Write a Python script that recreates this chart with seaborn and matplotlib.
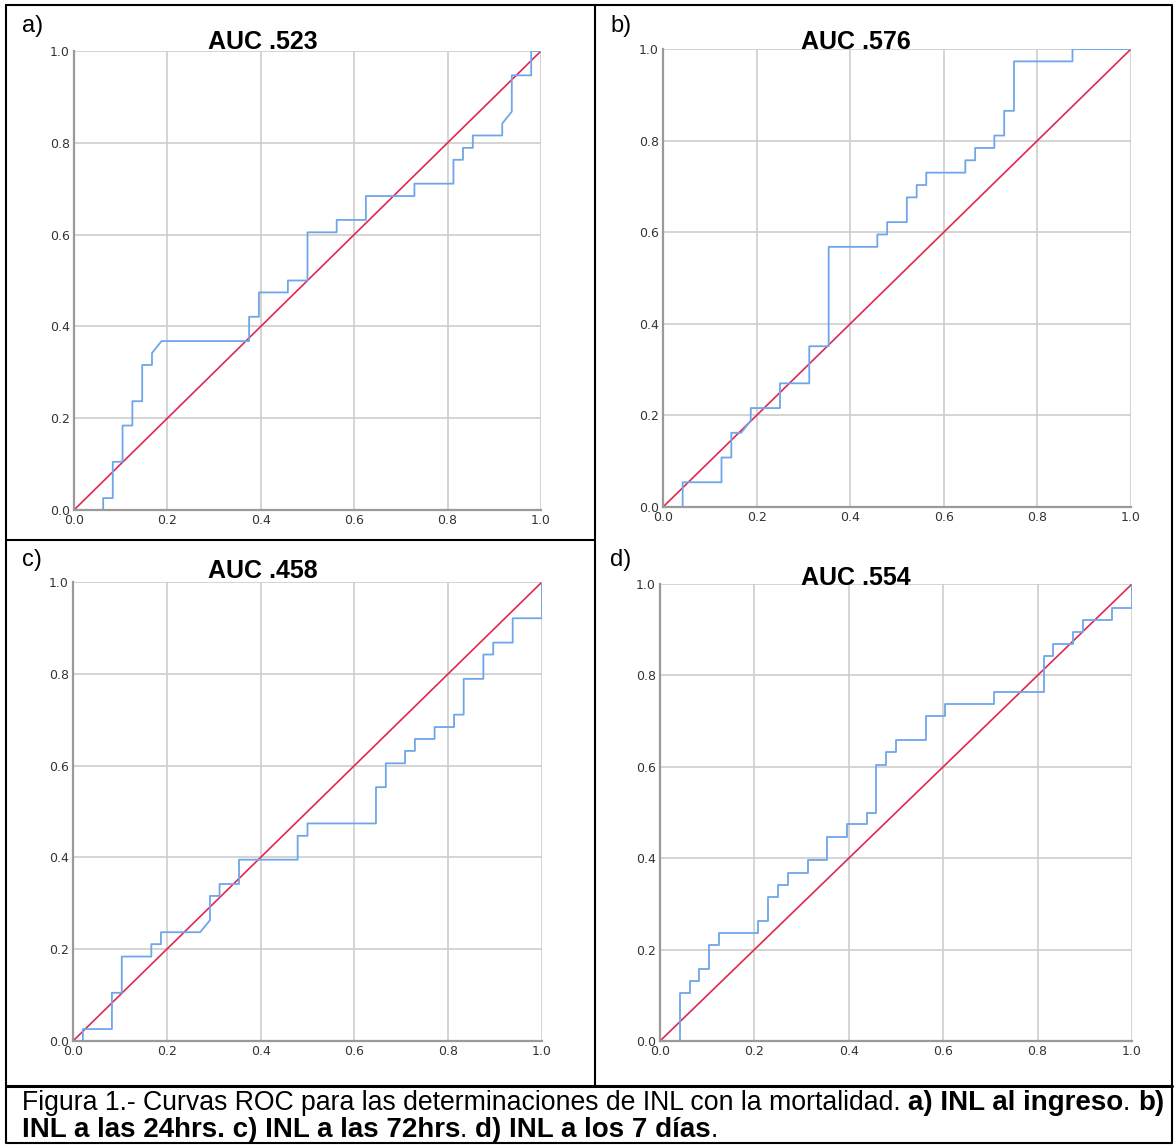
import matplotlib
matplotlib.use("Agg")
import matplotlib.pyplot as plt
import seaborn as sns
from matplotlib.lines import Line2D

# ROC curve vertices (1 - specificity, sensitivity)
fpr_a = [0, 0.0625, 0.0625, 0.083, 0.083, 0.104, 0.104, 0.125, 0.125, 0.146, 0.146, 0.167, 0.167, 0.1875,
         0.375, 0.375, 0.396, 0.396, 0.458, 0.458, 0.5, 0.5, 0.5625, 0.5625, 0.625, 0.625, 0.729, 0.729,
         0.8125, 0.8125, 0.833, 0.833, 0.854, 0.854, 0.917, 0.917, 0.9375, 0.9375, 0.979, 0.979, 1]
tpr_a = [0, 0, 0.026, 0.026, 0.105, 0.105, 0.184, 0.184, 0.237, 0.237, 0.316, 0.316, 0.342, 0.368,
         0.368, 0.421, 0.421, 0.474, 0.474, 0.5, 0.5, 0.605, 0.605, 0.632, 0.632, 0.684, 0.684, 0.711,
         0.711, 0.763, 0.763, 0.789, 0.789, 0.816, 0.816, 0.842, 0.868, 0.947, 0.947, 1, 1]

fpr_b = [0, 0.042, 0.042, 0.125, 0.125, 0.146, 0.146, 0.167, 0.1875, 0.1875, 0.25, 0.25, 0.3125, 0.3125,
         0.354, 0.354, 0.458, 0.458, 0.479, 0.479, 0.521, 0.521, 0.542, 0.542, 0.5625, 0.5625, 0.646,
         0.646, 0.667, 0.667, 0.708, 0.708, 0.729, 0.729, 0.75, 0.75, 0.875, 0.875, 1]
tpr_b = [0, 0, 0.054, 0.054, 0.108, 0.108, 0.162, 0.162, 0.189, 0.216, 0.216, 0.27, 0.27, 0.351,
         0.351, 0.568, 0.568, 0.595, 0.595, 0.622, 0.622, 0.676, 0.676, 0.703, 0.703, 0.730, 0.730,
         0.757, 0.757, 0.784, 0.784, 0.811, 0.811, 0.865, 0.865, 0.973, 0.973, 1, 1]

fpr_c = [0, 0.021, 0.021, 0.083, 0.083, 0.104, 0.104, 0.167, 0.167, 0.1875, 0.1875, 0.271, 0.292, 0.292,
         0.3125, 0.3125, 0.354, 0.354, 0.479, 0.479, 0.5, 0.5, 0.646, 0.646, 0.667, 0.667, 0.708, 0.708,
         0.729, 0.729, 0.771, 0.771, 0.8125, 0.8125, 0.833, 0.833, 0.875, 0.875, 0.896, 0.896, 0.9375,
         0.9375, 1, 1]
tpr_c = [0, 0, 0.026, 0.026, 0.105, 0.105, 0.184, 0.184, 0.211, 0.211, 0.237, 0.237, 0.263, 0.316,
         0.316, 0.342, 0.342, 0.395, 0.395, 0.447, 0.447, 0.474, 0.474, 0.553, 0.553, 0.605, 0.605, 0.632,
         0.632, 0.658, 0.658, 0.684, 0.684, 0.711, 0.711, 0.789, 0.789, 0.842, 0.842, 0.868, 0.868,
         0.921, 0.921, 1]

fpr_d = [0, 0.042, 0.042, 0.0625, 0.0625, 0.083, 0.083, 0.104, 0.104, 0.125, 0.125, 0.208, 0.208, 0.229,
         0.229, 0.25, 0.25, 0.271, 0.271, 0.3125, 0.3125, 0.354, 0.354, 0.396, 0.396, 0.4375, 0.4375,
         0.458, 0.458, 0.479, 0.479, 0.5, 0.5, 0.5625, 0.5625, 0.604, 0.604, 0.708, 0.708, 0.8125, 0.8125,
         0.833, 0.833, 0.875, 0.875, 0.896, 0.896, 0.958, 0.958, 1, 1]
tpr_d = [0, 0, 0.105, 0.105, 0.132, 0.132, 0.158, 0.158, 0.211, 0.211, 0.237, 0.237, 0.263, 0.263,
         0.316, 0.316, 0.342, 0.342, 0.368, 0.368, 0.395, 0.395, 0.447, 0.447, 0.474, 0.474, 0.5,
         0.5, 0.605, 0.605, 0.632, 0.632, 0.658, 0.658, 0.711, 0.711, 0.737, 0.737, 0.763, 0.763, 0.842,
         0.842, 0.868, 0.868, 0.895, 0.895, 0.921, 0.921, 0.947, 0.947, 1]

panel_tags = ["a)", "b)", "c)", "d)"]
auc_labels = ["AUC .523", "AUC .576", "AUC .458", "AUC .554"]
ref_line = [0, 1]
ticks = [0.0, 0.2, 0.4, 0.6, 0.8, 1.0]

W, H = 1174, 1145
sns.set_theme(style="whitegrid")
plt.rcParams["font.family"] = ["DejaVu Sans"]

fig = plt.figure(figsize=(W / 100, H / 100), dpi=100)
fig.patch.set_facecolor("white")


def px_rect(x0, y0, x1, y1):
    return [x0 / W, 1 - y1 / H, (x1 - x0) / W, (y1 - y0) / H]


# pixel boxes of the plot areas, tag positions and AUC title positions
boxes = [(74, 51, 541, 510), (663, 49, 1131, 507), (73, 582, 542, 1041), (660, 584, 1132, 1041)]
tag_pos = [(22, 26), (610, 26), (22, 560), (610, 560)]
auc_pos = [(263, 42), (856, 42), (263, 571), (856, 578)]
curves = [(fpr_a, tpr_a), (fpr_b, tpr_b), (fpr_c, tpr_c), (fpr_d, tpr_d)]

for i, (fx, ty) in enumerate(curves):
    ax = fig.add_axes(px_rect(*boxes[i]))
    sns.lineplot(x=ref_line, y=ref_line, ax=ax, color="#e0284f", lw=1.2, sort=False, estimator=None)
    sns.lineplot(x=fx, y=ty, ax=ax, color="#6fa6ea", lw=1.3, sort=False, estimator=None)
    ax.set_xlim(0, 1)
    ax.set_ylim(0, 1)
    ax.set_xticks(ticks)
    ax.set_yticks(ticks)
    ax.set_xticklabels([f"{t:.1f}" for t in ticks])
    ax.set_yticklabels([f"{t:.1f}" for t in ticks])
    ax.grid(True, color="#cdcdcd", lw=1.2)
    ax.set_facecolor("white")
    for side in ["top", "right"]:
        ax.spines[side].set_visible(False)
    for side in ["left", "bottom"]:
        ax.spines[side].set_color("#9a9a9a")
        ax.spines[side].set_linewidth(1.6)
    ax.tick_params(length=0, labelsize=9, colors="#333333", pad=3)
    ax.set_xlabel("")
    ax.set_ylabel("")

    fig.text(tag_pos[i][0] / W, 1 - tag_pos[i][1] / H, panel_tags[i], fontsize=17,
             family="Liberation Sans", color="black", ha="left", va="center")
    fig.text(auc_pos[i][0] / W, 1 - auc_pos[i][1] / H, auc_labels[i], fontsize=18,
             family="Liberation Sans", weight="bold", color="black", ha="center", va="center")

# table borders
border = dict(color="black", lw=1.5)
fig.add_artist(Line2D([6 / W, 1172 / W, 1172 / W, 6 / W, 6 / W],
                      [1 - 5 / H, 1 - 5 / H, 1 - 1143 / H, 1 - 1143 / H, 1 - 5 / H], **border))
fig.add_artist(Line2D([595 / W, 595 / W], [1 - 5 / H, 1 - 1086 / H], **border))
fig.add_artist(Line2D([6 / W, 595 / W], [1 - 540 / H, 1 - 540 / H], **border))
fig.add_artist(Line2D([6 / W, 1172 / W], [1 - 1086 / H, 1 - 1086 / H], color="black", lw=2.2))

# caption with mixed weights, pieces placed one after another
caption_lines = [
    [("Figura 1.- Curvas ROC para las determinaciones de INL con la mortalidad. ", "normal"),
     ("a) INL al ingreso", "bold"), (". ", "normal"), ("b)", "bold")],
    [("INL a las 24hrs. c) INL a las 72hrs", "bold"), (". ", "normal"),
     ("d) INL a los 7 días", "bold"), (".", "normal")],
]
caption_y = [1110, 1137]
cap_size = {"normal": 19.2, "bold": 20.0}
renderer = fig.canvas.get_renderer()
for segs, yb in zip(caption_lines, caption_y):
    x_px = 22
    for txt, wt in segs:
        t = fig.text(x_px / W, 1 - yb / H, txt, fontsize=cap_size[wt], family="Liberation Sans",
                     weight=wt, color="black", ha="left", va="baseline")
        x_px = t.get_window_extent(renderer).x1

fig.savefig("out.png", dpi=100)
